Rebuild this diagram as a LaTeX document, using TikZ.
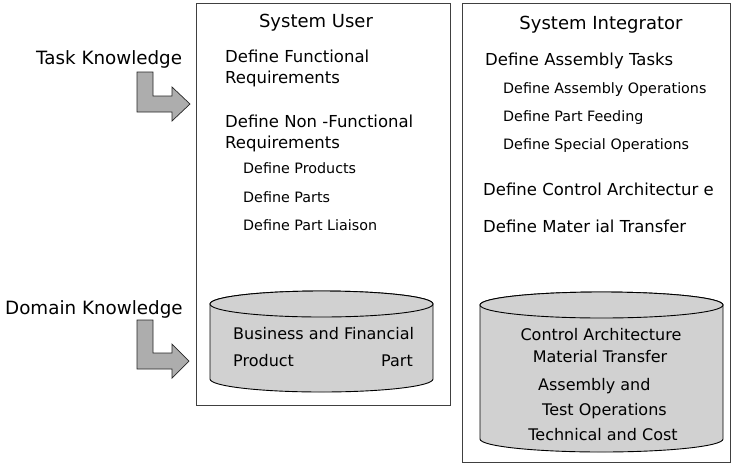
\documentclass[tikz,border=0pt]{standalone}
\usepackage{fontspec}
\setmainfont{DejaVu Sans}
\usetikzlibrary{positioning,calc}

\begin{document}
\begin{tikzpicture}[x=1pt,y=-1pt] % one unit is one pixel of the sketch, y grows downwards
\tikzset{every node/.style={inner sep=0pt, text height=0.75em, text depth=0.2em}} % same line box for every text
\tikzset{lbl/.style={anchor=west, font=\fontsize{18.3}{22}\selectfont}}
\tikzset{head/.style={font=\fontsize{18}{22}\selectfont}}
\tikzset{itemA/.style={anchor=west, font=\fontsize{16.5}{20}\selectfont}} % first level
\tikzset{itemB/.style={anchor=west, font=\fontsize{14.3}{17}\selectfont}} % second level
\tikzset{dbtext/.style={font=\fontsize{16}{20}\selectfont}}
\tikzset{panel/.style={draw=black!75, line width=0.8pt, anchor=north west}}
\tikzset{dbfill/.style={draw=black, line width=0.9pt, fill=black!18}}
\tikzset{bentarrow/.style={draw=black!85, line width=0.7pt, fill=black!32}}
\useasboundingbox (0,0) rectangle (733,464);
\node[panel, minimum width=254pt, minimum height=402pt] (userbox) at (196,3) {};
\node[panel, minimum width=268pt, minimum height=459pt] (integbox) at (462,3) {};
% knowledge arrows
\coordinate (taskfoot) at (137,72);
\coordinate (domainfoot) at (137,320);
\path[bentarrow] (taskfoot) -- ++(16,0) -- ++(0,24) -- ++(19,0) -- ++(0,-9) -- ++(18,17) -- ++(-18,17) -- ++(0,-9) -- ++(-35,0) -- cycle;
\path[bentarrow] (domainfoot) -- ++(16,0) -- ++(0,33) -- ++(19,0) -- ++(0,-9) -- ++(17,17) -- ++(-17,17) -- ++(0,-9) -- ++(-35,0) -- cycle;
\node[lbl] (task) at (36,62) {Task Knowledge};
\node[lbl] (domain) at (5,312) {Domain Knowledge};
% system user
\node[head] (user) at (316,25) {System User};
\node[itemA] (funcA) at (225,60) {Define Functional};
\node[itemA] (funcB) at (225,81) {Requirements};
\node[itemA] (nonfA) at (225,125) {Define Non -Functional};
\node[itemA] (nonfB) at (225,146) {Requirements};
\node[itemB] (prod) at (243,171) {Define Products};
\node[itemB] (parts) at (243,200) {Define Parts};
\node[itemB] (liaison) at (243,228) {Define Part Liaison};
\path[dbfill] (210,304) -- (210,379) arc[start angle=180, end angle=0, x radius=111.5, y radius=13] -- (433,304) arc[start angle=0, end angle=-180, x radius=111.5, y radius=13] -- cycle;
\draw[dbfill] (321.5,304) ellipse[x radius=111.5, y radius=13];
\node[dbtext, anchor=west] (bizfin) at (233,337) {Business and Financial};
\node[dbtext, anchor=west] (product) at (233,364) {Product};
\node[dbtext, anchor=east] (part) at (413,364) {Part};
% system integrator
\node[head] (integ) at (601,27) {System Integrator};
\node[itemA] (tasks) at (485,63) {Define Assembly Tasks};
\node[itemB] (asmops) at (503,91) {Define Assembly Operations};
\node[itemB] (feed) at (503,119) {Define Part Feeding};
\node[itemB] (special) at (503,147) {Define Special Operations};
\node[itemA] (ctrl) at (483,193) {Define Control Architectur e};
\node[itemA] (mat) at (483,230) {Define Mater ial Transfer};
\path[dbfill] (480,305) -- (480,439) arc[start angle=180, end angle=0, x radius=121.5, y radius=13] -- (723,305) arc[start angle=0, end angle=-180, x radius=121.5, y radius=13] -- cycle;
\draw[dbfill] (601.5,305) ellipse[x radius=121.5, y radius=13];
\node[dbtext] (ctrlarch) at (601,338) {Control Architecture};
\node[dbtext] (mattr) at (600,360) {Material Transfer};
\node[dbtext, anchor=west] (asmA) at (538,388) {Assembly and};
\node[dbtext, anchor=west] (asmB) at (542,413) {Test Operations};
\node[dbtext] (techcost) at (603,438) {Technical and Cost};
\end{tikzpicture}
\end{document}
